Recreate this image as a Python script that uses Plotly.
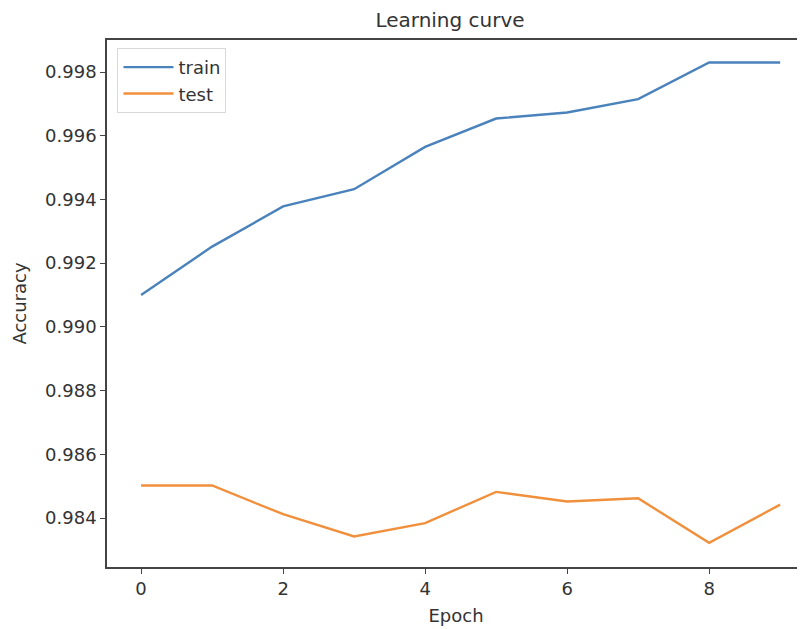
import plotly.graph_objects as go

epochs = [0, 1, 2, 3, 4, 5, 6, 7, 8, 9]
train_acc = [0.99100, 0.99252, 0.99378, 0.99432, 0.99565, 0.99654, 0.99673, 0.99715, 0.99830, 0.99830]
test_acc = [0.98502, 0.98502, 0.98412, 0.98342, 0.98384, 0.98482, 0.98452, 0.98462, 0.98322, 0.98442]
y_ticks = [0.984, 0.986, 0.988, 0.990, 0.992, 0.994, 0.996, 0.998]
x_ticks = [0, 2, 4, 6, 8]

BLUE = "#4a82bc"
ORANGE = "#f0903c"
FONT = "DejaVu Sans"
TXT = "#333333"

fig = go.Figure()
fig.add_trace(go.Scatter(x=epochs, y=train_acc, mode="lines", name="train",
                         line=dict(color=BLUE, width=2.4)))
fig.add_trace(go.Scatter(x=epochs, y=test_acc, mode="lines", name="test",
                         line=dict(color=ORANGE, width=2.4)))

fig.update_layout(
    width=797, height=621,
    margin=dict(l=99, r=0, t=32, b=62),
    paper_bgcolor="white", plot_bgcolor="white",
    font=dict(family=FONT, size=18, color=TXT),
    title=dict(text="Learning curve", x=0.5546, xanchor="center", y=0.981, yanchor="middle",
               font=dict(family=FONT, size=20, color=TXT)),
    showlegend=True,
    legend=dict(x=0.015, y=0.985, xanchor="left", yanchor="top",
                bgcolor="rgba(255,255,255,0.9)", bordercolor="#d8d8d8", borderwidth=1,
                font=dict(family=FONT, size=18, color=TXT),
                itemwidth=50, tracegroupgap=0),
)
fig.update_xaxes(
    range=[-0.48, 9.35], tickvals=x_ticks, ticktext=[str(t) for t in x_ticks],
    showgrid=False, zeroline=False,
    showline=True, linecolor="#444444", linewidth=1.5, mirror=True,
    ticks="outside", ticklen=5, tickcolor="#444444",
    tickfont=dict(family=FONT, size=18, color=TXT),
    title=dict(text="Epoch", font=dict(family=FONT, size=18, color=TXT), standoff=11),
)
fig.update_yaxes(
    range=[0.982462, 0.999005], tickvals=y_ticks, ticktext=[f"{t:.3f}" for t in y_ticks],
    showgrid=False, zeroline=False,
    showline=True, linecolor="#444444", linewidth=1.5, mirror=False,
    ticks="outside", ticklen=5, tickcolor="#444444",
    tickfont=dict(family=FONT, size=18, color=TXT),
    title=dict(text="Accuracy", font=dict(family=FONT, size=18, color=TXT), standoff=14),
)

fig.write_html("out.html")
